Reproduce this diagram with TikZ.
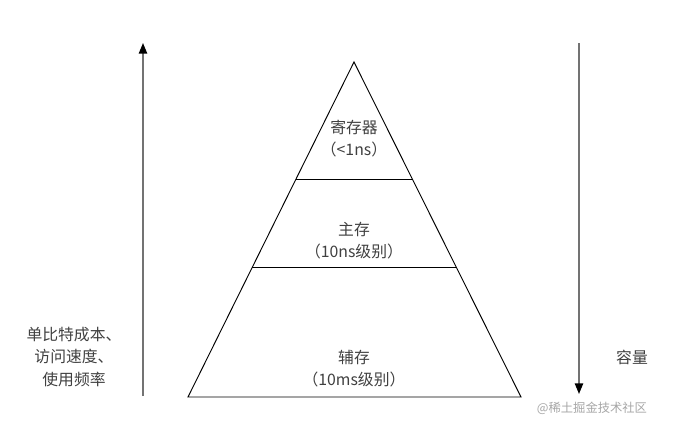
\documentclass[tikz,border=0pt]{standalone}
\usepackage{fontspec}
\usepackage{tikz}
\usetikzlibrary{arrows.meta,calc}
\newfontfamily\cjk{Noto Sans CJK SC}

\tikzset{
  level/.style={font=\cjk\fontsize{13.5}{18.7}\selectfont, text=black!75, align=center},
  side/.style={font=\cjk\fontsize{13.5}{19.5}\selectfont, text=black!75, align=center},
  axis/.style={draw=black!55, line width=1.4pt, -{Triangle[length=9pt,width=7pt,color=black]}}
}

\begin{document}
\begin{tikzpicture}[x=0.03cm, y=-0.03cm]
            \useasboundingbox (0,0) rectangle (686,434);

            % pyramid
            \coordinate (top) at (354,62);
            \coordinate (bl) at (188,397);
            \coordinate (br) at (521,397);
            \draw[line width=0.8pt] (top) -- (bl) -- (br) -- cycle;
            \draw[line width=0.8pt] ($(top)!0.3493!(bl)$) -- ($(top)!0.3493!(br)$);
            \draw[line width=0.8pt] ($(top)!0.6119!(bl)$) -- ($(top)!0.6119!(br)$);

            \node[level] (reg) at (354,139) {寄存器\\（<1ns）};
            \node[level] (main) at (354,241) {主存\\（10ns级别）};
            \node[level] (aux) at (354,369) {辅存\\（10ms级别）};

            % axes
            \coordinate (la) at (143,396);
            \coordinate (lb) at (143,43);
            \coordinate (ra) at (579,43);
            \coordinate (rb) at (579,394);
            \draw[axis] (la) -- (lb);
            \draw[axis] (ra) -- (rb);

            \node[side] (cost) at (74,357) {单比特成本、\\访问速度、\\使用频率};
            \node[side] (cap) at (632,357) {容量};

            \node[font=\cjk\fontsize{10.5}{12}\selectfont, text=black!35] (mark) at (592,408) {@稀土掘金技术社区};
\end{tikzpicture}
\end{document}
